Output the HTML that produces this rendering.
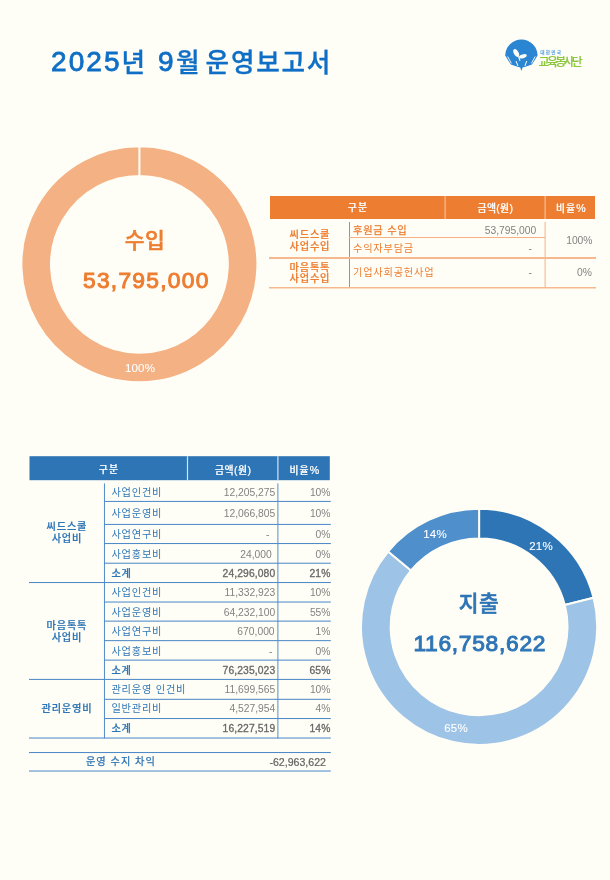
<!DOCTYPE html>
<html lang="ko">
<head>
<meta charset="utf-8">
<title>2025년 9월 운영보고서</title>
<style>
html,body{margin:0;padding:0;}
body{width:610px;height:880px;background:#fffef6;position:relative;overflow:hidden;
 font-family:"Liberation Sans","Noto Sans CJK KR","NanumGothic",sans-serif;}
.a{position:absolute;white-space:nowrap;}
.ti{position:absolute;white-space:nowrap;font-weight:bold;color:#0f6fc6;line-height:36px;height:36px;top:43px;}
.tk{font-size:25.6px;letter-spacing:1.75px;font-family:"Noto Sans CJK KR",sans-serif;font-weight:500;-webkit-text-stroke:0.35px #0f6fc6;}
.td{font-size:28px;letter-spacing:2.1px;margin-top:1px;font-weight:normal;-webkit-text-stroke:0.8px #0f6fc6;}
svg{position:absolute;left:0;top:0;}
.c{text-align:center;}
.r{text-align:right;}
.t{font-size:10.3px;line-height:12px;height:12px;}
.k.w{font-size:9.8px;letter-spacing:1.1px;}
.L{font-size:10.6px;letter-spacing:0.3px;}
.nb{color:#686868;-webkit-text-stroke:0.32px #686868;letter-spacing:0.12px;}
.k{font-size:10.2px;letter-spacing:0.8px;}
.k.c{text-indent:0.8px;}
.k.b{font-weight:500;-webkit-text-stroke:0.22px currentColor;}
.b{font-weight:bold;}
.o{color:#ed7d31;}
.bl{color:#2e75b6;}
.g{color:#828282;}
.w{color:#fff;}
.ln{position:absolute;}
.lb{width:60px;font-size:11.5px;line-height:14px;letter-spacing:0.2px;-webkit-text-stroke:0.1px #fff;}
.bk{font-family:"Noto Sans CJK KR",sans-serif;font-weight:500;font-size:21.5px;line-height:30px;letter-spacing:0.5px;-webkit-text-stroke:0.5px currentColor;}
.bd{font-size:22.8px;line-height:30px;letter-spacing:1.25px;-webkit-text-stroke:1px currentColor;}
</style>
</head>
<body>
<div id="title"><span class="ti td" style="left:51px">2025</span><span class="ti tk" style="left:121.6px">년</span> <span class="ti td" style="left:158px">9</span><span class="ti tk" style="left:176px">월</span> <span class="ti tk" style="left:205.6px">운영보고서</span></div>

<svg width="610" height="880" viewBox="0 0 610 880">
<path d="M139.42 146.30 A118.0 118.0 0 1 1 139.38 146.30 L139.38 175.90 A88.4 88.4 0 1 0 139.42 175.90 Z" fill="#f4b183" stroke="#fffef6" stroke-width="2" stroke-linejoin="round"/>
<path d="M479.10 508.70 A118.1 118.1 0 0 1 593.58 597.79 L564.79 605.08 A88.4 88.4 0 0 0 479.10 538.40 Z" fill="#2e75b6" stroke="#fffef6" stroke-width="2" stroke-linejoin="round"/>
<path d="M593.58 597.79 A118.1 118.1 0 1 1 388.10 551.52 L410.99 570.45 A88.4 88.4 0 1 0 564.79 605.08 Z" fill="#9dc3e6" stroke="#fffef6" stroke-width="2" stroke-linejoin="round"/>
<path d="M388.10 551.52 A118.1 118.1 0 0 1 479.10 508.70 L479.10 538.40 A88.4 88.4 0 0 0 410.99 570.45 Z" fill="#4f8fcb" stroke="#fffef6" stroke-width="2" stroke-linejoin="round"/>
<g id="logo">
<path d="M505.2 55.6 A16.2 16.2 0 0 1 537.6 55.6 L531.9 64.6 L525.4 66.8 L522.6 67.4 L521.4 71 L520.2 67.4 L517.4 66.8 L510.9 64.6 Z" fill="#2a86d2"/>
<ellipse cx="516.2" cy="53" rx="2.3" ry="4.2" transform="rotate(-30 516.2 53)" fill="#fffef6"/>
<ellipse cx="522.9" cy="56.3" rx="4" ry="1.9" transform="rotate(-14 522.9 56.3)" fill="#fffef6"/>
<path d="M518.6 57 Q519.4 58.5 519.8 60.5" stroke="#fffef6" stroke-width="1.2" fill="none" stroke-linecap="round"/>
<path d="M507.8 56.8 L511.2 63 M535 56.8 L531.6 63" stroke="#fffef6" stroke-width="0.9" fill="none" stroke-linecap="round"/>
<path d="M516.2 61.4 L517.8 65.6 M526.6 61.4 L525 65.6" stroke="#fffef6" stroke-width="1" fill="none" stroke-linecap="round"/>
</g>
<rect x="270" y="196" width="325" height="23" fill="#ed7d31"/>
<rect x="444.6" y="196" width="1" height="23" fill="#f8cbad"/>
<rect x="544.6" y="196" width="1" height="23" fill="#f8cbad"/>
<rect x="349" y="222" width="1" height="66" fill="#ed7d31"/>
<rect x="544.6" y="222" width="1" height="66" fill="#f4b183"/>
<rect x="349" y="237" width="196" height="1" fill="#f4b183"/>
<rect x="269" y="257" width="327" height="2" fill="#f6b98f"/>
<rect x="269" y="287" width="327" height="1.5" fill="#f6b98f"/>
<rect x="29.5" y="456.2" width="300.3" height="24" fill="#2e75b6"/>
<rect x="186.9" y="456.2" width="1.2" height="24" fill="#d6e4f2"/>
<rect x="277.3" y="456.2" width="1.2" height="24" fill="#d6e4f2"/>
<rect x="103.95" y="483.4" width="1" height="255" fill="#4f8bc9"/>
<rect x="277.2" y="483.4" width="1.3" height="255" fill="#7aa8d6"/>
<rect x="104" y="500.9" width="226.8" height="1.05" fill="#4f8bc9"/>
<rect x="104" y="523.9" width="226.8" height="1.05" fill="#4f8bc9"/>
<rect x="104" y="543.0" width="226.8" height="1.05" fill="#4f8bc9"/>
<rect x="104" y="562.7" width="226.8" height="1.05" fill="#4f8bc9"/>
<rect x="29" y="582.0" width="301.8" height="1.05" fill="#4f8bc9"/>
<rect x="104" y="601.5" width="226.8" height="1.05" fill="#4f8bc9"/>
<rect x="104" y="620.6" width="226.8" height="1.05" fill="#4f8bc9"/>
<rect x="104" y="640.1" width="226.8" height="1.05" fill="#4f8bc9"/>
<rect x="104" y="659.6" width="226.8" height="1.05" fill="#4f8bc9"/>
<rect x="29" y="678.9" width="301.8" height="1.05" fill="#4f8bc9"/>
<rect x="104" y="698.8" width="226.8" height="1.05" fill="#4f8bc9"/>
<rect x="104" y="718.0" width="226.8" height="1.05" fill="#4f8bc9"/>
<rect x="29" y="737.5" width="301.8" height="1.05" fill="#4f8bc9"/>
<rect x="29" y="752.0" width="301.8" height="1.05" fill="#4f8bc9"/>
<rect x="29" y="770.5" width="301.8" height="1.05" fill="#4f8bc9"/>
</svg>
<div class="a c o bk" style="left:90px;top:224px;width:110px;">수입</div>
<div class="a c o bd" style="left:60px;top:265px;width:172.6px;">53,795,000</div>
<div class="a c w lb" style="left:110px;top:361px;">100%</div>
<div class="a c bl bk" style="left:424px;top:587px;width:110px;">지출</div>
<div class="a c bl bd" style="left:394px;top:628px;width:171.6px;letter-spacing:0.7px;">116,758,622</div>
<div class="a c w lb" style="left:511px;top:539px;">21%</div>
<div class="a c w lb" style="left:426px;top:721px;">65%</div>
<div class="a c w lb" style="left:405px;top:527px;">14%</div>
<div class="a" style="left:540.3px;top:49px;font-size:4.7px;line-height:7px;color:#4a9ade;font-weight:bold;letter-spacing:1.15px;font-family:'Noto Sans CJK KR',sans-serif;">대한민국</div>
<div class="a" style="left:538.6px;top:53px;font-size:11.8px;line-height:16px;color:#8cc63f;letter-spacing:-2.55px;font-weight:500;-webkit-text-stroke:0.15px #8cc63f;font-family:'Noto Sans CJK KR',sans-serif;">교육봉사단</div>
<div class="a t c b w k" style="left:270px;top:202.0px;width:175px;">구분</div>
<div class="a t c b w k" style="left:446px;top:202.0px;width:98px;letter-spacing:0.3px;">금액<span class="L">(</span>원<span class="L">)</span></div>
<div class="a t c b w k" style="left:546px;top:202.0px;width:49px;">비율<span class="L">%</span></div>
<div class="a t c b o k" style="left:270px;top:229px;width:79px;">씨드스쿨</div>
<div class="a t c b o k" style="left:270px;top:240.6px;width:79px;">사업수입</div>
<div class="a t c b o k" style="left:270px;top:262px;width:79px;">마음톡톡</div>
<div class="a t c b o k" style="left:270px;top:273.4px;width:79px;">사업수입</div>
<div class="a t o k" style="left:353px;top:224.5px;width:120px;-webkit-text-stroke:0.25px currentColor;">후원금 수입</div>
<div class="a t o k" style="left:353px;top:242.5px;width:120px;">수익자부담금</div>
<div class="a t o k" style="left:353px;top:267px;width:120px;">기업사회공헌사업</div>
<div class="a t r g" style="left:440px;top:224.5px;width:96.3px;">53,795,000</div>
<div class="a t r g" style="left:440px;top:242.5px;width:92px;">-</div>
<div class="a t r g" style="left:440px;top:266.5px;width:92px;">-</div>
<div class="a t r g" style="left:546px;top:234.5px;width:46.5px;">100%</div>
<div class="a t r g" style="left:546px;top:266.5px;width:46px;">0%</div>
<div class="a t c b w k" style="left:29.5px;top:463.65000000000003px;width:158px;">구분</div>
<div class="a t c b w k" style="left:188px;top:463.65000000000003px;width:89.5px;letter-spacing:0.5px;">금액<span class="L">(</span>원<span class="L">)</span></div>
<div class="a t c b w k" style="left:278px;top:463.65000000000003px;width:52px;">비율<span class="L">%</span></div>
<div class="a t bl k" style="left:111.4px;top:487.15000000000003px;width:100px;">사업인건비</div>
<div class="a t r g" style="left:175px;top:487.15000000000003px;width:100.30000000000001px;">12,205,275</div>
<div class="a t r g" style="left:280px;top:487.15000000000003px;width:50.5px;">10%</div>
<div class="a t bl k" style="left:111.4px;top:507.95000000000005px;width:100px;">사업운영비</div>
<div class="a t r g" style="left:175px;top:507.95000000000005px;width:100.30000000000001px;">12,066,805</div>
<div class="a t r g" style="left:280px;top:507.95000000000005px;width:50.5px;">10%</div>
<div class="a t bl k" style="left:111.4px;top:528.85px;width:100px;">사업연구비</div>
<div class="a t r g" style="left:175px;top:528.85px;width:94.5px;">-</div>
<div class="a t r g" style="left:280px;top:528.85px;width:50.5px;">0%</div>
<div class="a t bl k" style="left:111.4px;top:548.85px;width:100px;">사업홍보비</div>
<div class="a t r g" style="left:175px;top:548.85px;width:96.80000000000001px;">24,000</div>
<div class="a t r g" style="left:280px;top:548.85px;width:50.5px;">0%</div>
<div class="a t bl b k" style="left:111.4px;top:567.75px;width:100px;">소계</div>
<div class="a t r nb" style="left:175px;top:567.75px;width:100.30000000000001px;">24,296,080</div>
<div class="a t r nb" style="left:280px;top:567.75px;width:50.5px;">21%</div>
<div class="a t bl k" style="left:111.4px;top:587.35px;width:100px;">사업인건비</div>
<div class="a t r g" style="left:175px;top:587.35px;width:100.30000000000001px;">11,332,923</div>
<div class="a t r g" style="left:280px;top:587.35px;width:50.5px;">10%</div>
<div class="a t bl k" style="left:111.4px;top:606.65px;width:100px;">사업운영비</div>
<div class="a t r g" style="left:175px;top:606.65px;width:100.30000000000001px;">64,232,100</div>
<div class="a t r g" style="left:280px;top:606.65px;width:50.5px;">55%</div>
<div class="a t bl k" style="left:111.4px;top:626.25px;width:100px;">사업연구비</div>
<div class="a t r g" style="left:175px;top:626.25px;width:99.60000000000002px;">670,000</div>
<div class="a t r g" style="left:280px;top:626.25px;width:50.5px;">1%</div>
<div class="a t bl k" style="left:111.4px;top:645.95px;width:100px;">사업홍보비</div>
<div class="a t r g" style="left:175px;top:645.95px;width:97.39999999999998px;">-</div>
<div class="a t r g" style="left:280px;top:645.95px;width:50.5px;">0%</div>
<div class="a t bl b k" style="left:111.4px;top:664.85px;width:100px;">소계</div>
<div class="a t r nb" style="left:175px;top:664.85px;width:100.30000000000001px;">76,235,023</div>
<div class="a t r nb" style="left:280px;top:664.85px;width:50.5px;">65%</div>
<div class="a t bl k" style="left:111.4px;top:684.25px;width:100px;">관리운영 인건비</div>
<div class="a t r g" style="left:175px;top:684.25px;width:100.30000000000001px;">11,699,565</div>
<div class="a t r g" style="left:280px;top:684.25px;width:50.5px;">10%</div>
<div class="a t bl k" style="left:111.4px;top:703.15px;width:100px;">일반관리비</div>
<div class="a t r g" style="left:175px;top:703.15px;width:100.30000000000001px;">4,527,954</div>
<div class="a t r g" style="left:280px;top:703.15px;width:50.5px;">4%</div>
<div class="a t bl b k" style="left:111.4px;top:722.85px;width:100px;">소계</div>
<div class="a t r nb" style="left:175px;top:722.85px;width:100.30000000000001px;">16,227,519</div>
<div class="a t r nb" style="left:280px;top:722.85px;width:50.5px;">14%</div>
<div class="a t c b bl k" style="left:29px;top:520.5500000000001px;width:75px;">씨드스쿨</div>
<div class="a t c b bl k" style="left:29px;top:532.95px;width:75px;">사업비</div>
<div class="a t c b bl k" style="left:29px;top:619.85px;width:75px;">마음톡톡</div>
<div class="a t c b bl k" style="left:29px;top:631.65px;width:75px;">사업비</div>
<div class="a t c b bl k" style="left:29px;top:703.45px;width:75px;">관리운영비</div>
<div class="a t c bl k" style="left:60.5px;top:756.45px;width:120px;letter-spacing:1px;-webkit-text-stroke:0.25px currentColor;">운영 수지 차익</div>
<div class="a t r" style="left:200px;top:756.45px;width:126px;color:#636363;font-size:10.6px;-webkit-text-stroke:0.2px #636363;">-62,963,622</div>
</body>
</html>
